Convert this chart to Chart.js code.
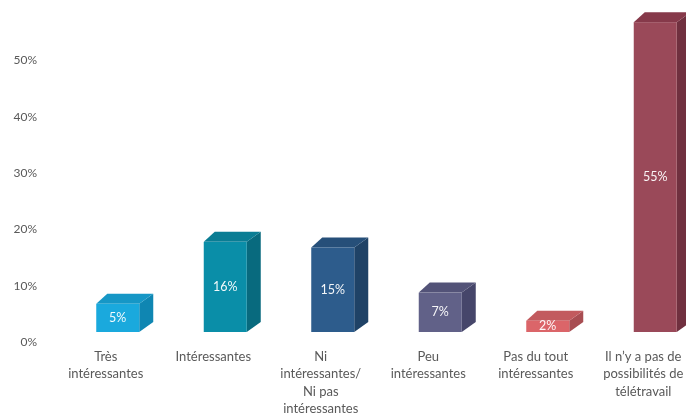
<!DOCTYPE html>
<html lang="fr">
<head>
<meta charset="utf-8">
<title>Intérêt pour le télétravail</title>
<script src="https://cdn.jsdelivr.net/npm/chart.js@4.4.1/dist/chart.umd.min.js"></script>
<style>
  html, body { margin: 0; padding: 0; background: #ffffff; }
  #frame { width: 686px; height: 417px; overflow: hidden; position: relative; }
  #wrap { width: 720px; height: 417px; position: absolute; left: 0; top: 0; }
</style>
</head>
<body>
<div id="frame"><div id="wrap"><canvas id="chart" width="720" height="417"></canvas></div></div>
<script>
// Categories (multi-line labels) and shares in percent
const categories = [
  ["Très", "intéressantes"],
  ["Intéressantes"],
  ["Ni", "intéressantes/", "Ni pas", "intéressantes"],
  ["Peu", "intéressantes"],
  ["Pas du tout", "intéressantes"],
  ["Il n’y a pas de", "possibilités de", "télétravail"]
];
const shares = [5, 16, 15, 7, 2, 55];
const valueLabels = ["5%", "16%", "15%", "7%", "2%", "55%"];

// Face colours of each block: front, top, right side
const frontColors = ["#1AA9DD", "#0A8EA8", "#2D5C8C", "#616188", "#DB6569", "#9A4959"];
const topColors   = ["#1697C6", "#0A7D94", "#264F79", "#535378", "#C25A5E", "#86394A"];
const sideColors  = ["#0F86B2", "#086A7E", "#1F4266", "#46466A", "#A84D52", "#70303F"];

// Axis range
const yMax = 60;
const yStep = 10;

// Block geometry (pseudo-3D)
const FRONT_SHIFT_X = 12;  // front face offset from category centre
const FRONT_LIFT = 10;     // front face raised above the floor line
const DEPTH_LEFT = 11;     // back-left corner horizontal depth
const DEPTH_RIGHT = 14;    // back-right corner horizontal depth
const DEPTH_UP = 10;       // vertical depth

const FONT = "Lato, 'Open Sans', 'DejaVu Sans', sans-serif";

const blocks3d = {
  id: 'blocks3d',
  afterDatasetsDraw(chart) {
    const ctx = chart.ctx;
    const meta = chart.getDatasetMeta(0);
    meta.data.forEach((el, i) => {
      const p = el.getProps(['x', 'y', 'base', 'width'], true);
      const left = p.x + FRONT_SHIFT_X - p.width / 2;
      const right = left + p.width;
      const top = p.y - FRONT_LIFT;
      const bottom = p.base - FRONT_LIFT;
      ctx.save();
      // right side
      ctx.fillStyle = sideColors[i];
      ctx.beginPath();
      ctx.moveTo(right, top);
      ctx.lineTo(right + DEPTH_RIGHT, top - DEPTH_UP);
      ctx.lineTo(right + DEPTH_RIGHT, bottom - DEPTH_UP);
      ctx.lineTo(right, bottom);
      ctx.closePath();
      ctx.fill();
      // top
      ctx.fillStyle = topColors[i];
      ctx.beginPath();
      ctx.moveTo(left, top);
      ctx.lineTo(right, top);
      ctx.lineTo(right + DEPTH_RIGHT, top - DEPTH_UP);
      ctx.lineTo(left + DEPTH_LEFT, top - DEPTH_UP);
      ctx.closePath();
      ctx.fill();
      // front
      ctx.fillStyle = frontColors[i];
      ctx.fillRect(left, top, right - left, bottom - top);
      // value label centred on the front face
      ctx.fillStyle = 'rgba(255,255,255,0.95)';
      ctx.font = "12.5px " + FONT;
      ctx.textAlign = 'center';
      ctx.textBaseline = 'middle';
      ctx.fillText(valueLabels[i], (left + right) / 2, (top + bottom) / 2);
      ctx.restore();
    });
  }
};

new Chart(document.getElementById('chart'), {
  type: 'bar',
  data: {
    labels: categories,
    datasets: [{
      data: shares,
      backgroundColor: 'rgba(0,0,0,0)',
      borderWidth: 0,
      categoryPercentage: 1.0,
      barPercentage: 0.4
    }]
  },
  options: {
    responsive: false,
    animation: false,
    events: [],
    layout: { padding: { top: 4, right: 23, left: 0, bottom: 0 } },
    plugins: {
      legend: { display: false },
      tooltip: { enabled: false }
    },
    scales: {
      x: {
        grid: { display: false, drawTicks: false },
        border: { display: false },
        ticks: {
          color: '#595959',
          padding: 6,
          maxRotation: 0,
          autoSkip: false,
          font: { family: FONT, size: 13, lineHeight: '17.5px' }
        },
        afterFit(scale) {
          scale.height = 75;
          scale.paddingLeft = 0;
          scale.paddingRight = 0;
        }
      },
      y: {
        min: 0,
        max: yMax,
        grid: { display: false, drawTicks: false },
        border: { display: false },
        ticks: {
          stepSize: yStep,
          color: '#595959',
          padding: 15,
          font: { family: FONT, size: 12 },
          callback: (v) => v + '%'
        },
        afterBuildTicks(scale) {
          scale.ticks = scale.ticks.filter(t => t.value < yMax);
        },
        afterFit(scale) {
          scale.width = 52;
          scale.paddingTop = 0;
          scale.paddingBottom = 0;
        }
      }
    }
  },
  plugins: [blocks3d]
});
</script>
</body>
</html>
